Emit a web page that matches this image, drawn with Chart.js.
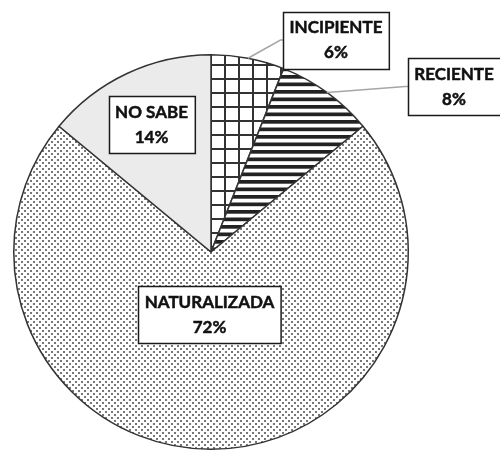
<!DOCTYPE html>
<html lang="es">
<head>
<meta charset="UTF-8">
<title>Tipo de invasión</title>
<script src="https://cdn.jsdelivr.net/npm/chart.js@4.4.1/dist/chart.umd.min.js"></script>
<style>
    html, body {
        margin: 0;
        padding: 0;
        background: #fff;
        overflow: hidden;
    }
    #wrap {
        width: 500px;
        height: 450px;
    }
</style>
</head>
<body>
<div id="wrap"><canvas id="grafico" width="500" height="450"></canvas></div>
<script>
    // datos
    const categorias = ['INCIPIENTE', 'RECIENTE', 'NATURALIZADA', 'NO SABE'];
    const porcentajes = [6, 8, 72, 14];
    const textosPct = ['6%', '8%', '72%', '14%'];

    // posición de cada recuadro respecto al centro de la torta (px)
    const desplEtiquetas = [
        {dx: 125, dy: -212, fuera: true},
        {dx: 243, dy: -165.5, fuera: true},
        {dx: -1.5, dy: 62.5, fuera: false},
        {dx: -59.5, dy: -127.5, fuera: false}
    ];

    function nuevoTile(w, h) {
        const c = document.createElement('canvas');
        c.width = w;
        c.height = h;
        return c;
    }

    // cuadrícula (INCIPIENTE)
    function patronCuadricula() {
        const c = nuevoTile(14, 14), g = c.getContext('2d');
        g.fillStyle = '#fff';
        g.fillRect(0, 0, 14, 14);
        g.fillStyle = '#333';
        g.fillRect(0, 0, 2, 14);
        g.fillRect(0, 8, 14, 2);
        return g.createPattern(c, 'repeat');
    }

    // rayas horizontales (RECIENTE)
    function patronRayas() {
        const c = nuevoTile(8, 15), g = c.getContext('2d');
        g.fillStyle = '#fff';
        g.fillRect(0, 0, 8, 15);
        g.fillStyle = '#222';
        g.fillRect(0, 0, 8, 3.7);
        g.fillRect(0, 7.5, 8, 3.7);
        return g.createPattern(c, 'repeat');
    }

    // puntos (NATURALIZADA)
    function patronPuntos() {
        const c = nuevoTile(6, 6), g = c.getContext('2d');
        g.fillStyle = '#fff';
        g.fillRect(0, 0, 6, 6);
        g.fillStyle = '#777';
        g.fillRect(0, 0, 2, 2);
        g.fillRect(3, 3, 2, 2);
        return g.createPattern(c, 'repeat');
    }

    const rellenos = [patronCuadricula(), patronRayas(), patronPuntos(), '#ebebeb'];

    const etiquetasPlugin = {
        id: 'etiquetas',
        afterDatasetsDraw(chart) {
            const ctx = chart.ctx;
            const arcos = chart.getDatasetMeta(0).data;
            ctx.save();
            ctx.font = 'bold 17px Lato, "Open Sans", sans-serif';
            ctx.textAlign = 'center';
            ctx.textBaseline = 'middle';
            arcos.forEach((arco, i) => {
                const p = arco.getProps(['x', 'y', 'startAngle', 'endAngle', 'outerRadius'], true);
                const cx = p.x + desplEtiquetas[i].dx;
                const cy = p.y + desplEtiquetas[i].dy;
                const w = Math.max(ctx.measureText(categorias[i]).width, ctx.measureText(textosPct[i]).width) + 13;
                const h = 57;
                const x0 = Math.round(cx - w / 2) + 0.5, y0 = Math.round(cy - h / 2) + 0.5;

                if (desplEtiquetas[i].fuera) {
                    const medio = (p.startAngle + p.endAngle) / 2;
                    const ex = p.x + Math.cos(medio) * p.outerRadius;
                    const ey = p.y + Math.sin(medio) * p.outerRadius;
                    ctx.strokeStyle = '#a6a6a6';
                    ctx.lineWidth = 1.5;
                    ctx.beginPath();
                    ctx.moveTo(ex, ey);
                    ctx.lineTo(x0 - 3, cy);
                    ctx.lineTo(x0, cy);
                    ctx.stroke();
                }

                ctx.fillStyle = '#fff';
                ctx.fillRect(x0, y0, w, h);
                ctx.strokeStyle = '#1a1a1a';
                ctx.lineWidth = 1.5;
                ctx.strokeRect(x0, y0, w, h);

                // texto algo más grueso, como en el original
                ctx.fillStyle = '#111';
                ctx.strokeStyle = '#111';
                ctx.lineWidth = 0.5;
                ctx.fillText(categorias[i], cx, cy - 12);
                ctx.strokeText(categorias[i], cx, cy - 12);
                ctx.fillText(textosPct[i], cx, cy + 13);
                ctx.strokeText(textosPct[i], cx, cy + 13);
            });
            ctx.restore();
        }
    };

    const grafico = new Chart(document.getElementById('grafico'), {
        type: 'pie',
        data: {
            labels: categorias,
            datasets: [{
                data: porcentajes,
                backgroundColor: rellenos,
                borderColor: '#333',
                borderWidth: 1.5
            }]
        },
        options: {
            responsive: false,
            animation: false,
            layout: {padding: {left: 12, right: 90, top: 54, bottom: -1}},
            plugins: {
                legend: {display: false},
                tooltip: {enabled: false}
            }
        },
        plugins: [etiquetasPlugin]
    });
</script>
</body>
</html>
